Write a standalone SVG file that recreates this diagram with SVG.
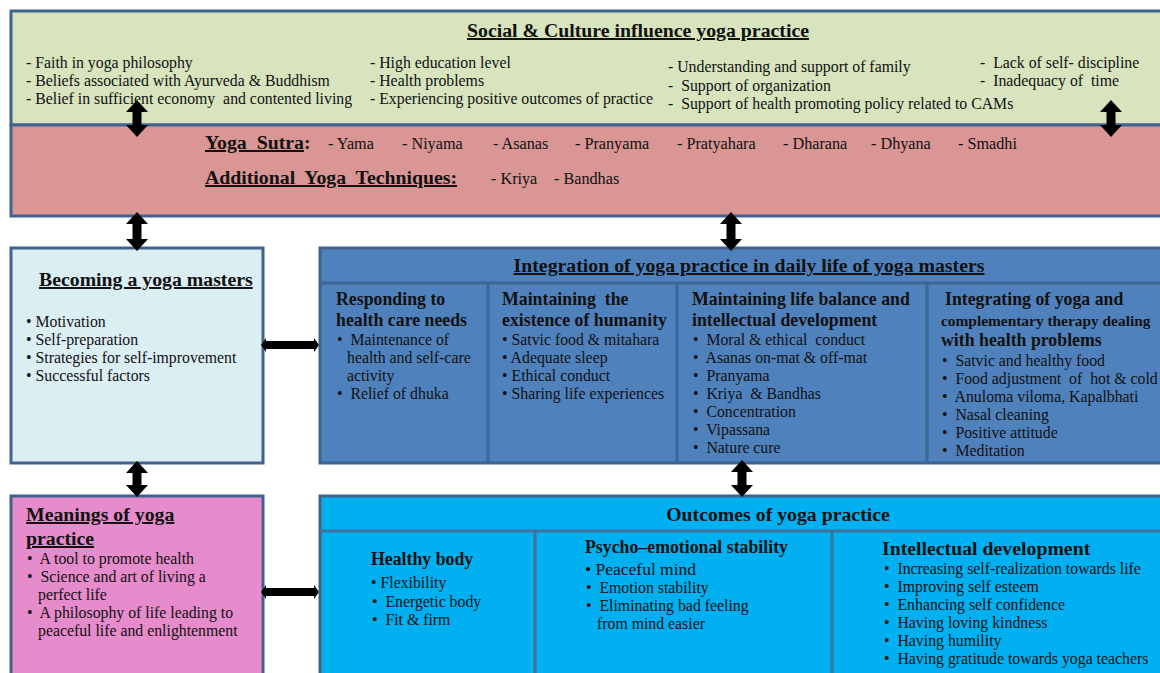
<svg xmlns="http://www.w3.org/2000/svg" width="1160" height="673" viewBox="0 0 1160 673">
<style>
text{font-family:"Liberation Serif","Times New Roman",serif;fill:#111;}
.t{font-size:15.8px;}
.s{font-size:16.2px;}
.h{font-size:19.8px;font-weight:bold;}
.hu{font-size:19.8px;font-weight:bold;text-decoration:underline;}
.b{font-size:17.8px;font-weight:bold;}
.box{stroke:#41628c;stroke-width:3;}
.div{stroke:#3d6595;stroke-width:3;fill:none;}
.arr{fill:#000;}
</style>
<rect width="1160" height="673" fill="#fff"/>

<g id="social">
<rect class="box" x="11" y="11" width="1160" height="114" fill="#d7e4bd"/>
<text class="hu" x="638" y="37" text-anchor="middle">Social &amp; Culture influence yoga practice</text>
<text class="t" x="26" y="68">- Faith in yoga philosophy</text>
<text class="t" x="26" y="86">- Beliefs associated with Ayurveda &amp; Buddhism</text>
<text class="t" x="26" y="104" xml:space="preserve">- Belief in sufficient economy  and contented living</text>
<text class="t" x="370" y="68">- High education level</text>
<text class="t" x="370" y="86">- Health problems</text>
<text class="t" x="370" y="104">- Experiencing positive outcomes of practice</text>
<text class="t" x="668" y="72">- Understanding and support of family</text>
<text class="t" x="668" y="91" xml:space="preserve">-  Support of organization</text>
<text class="t" x="668" y="109" xml:space="preserve">-  Support of health promoting policy related to CAMs</text>
<text class="t" x="980" y="68" xml:space="preserve">-  Lack of self- discipline</text>
<text class="t" x="980" y="86" xml:space="preserve">-  Inadequacy of  time</text>
</g>

<g id="yoga-sutra">
<rect class="box" x="11" y="125" width="1160" height="91" fill="#d99694"/>
<text x="205" y="149"><tspan class="hu" xml:space="preserve">Yoga  Sutra</tspan><tspan class="h">:</tspan></text>
<text class="s" x="328" y="149">- Yama</text>
<text class="s" x="402" y="149">- Niyama</text>
<text class="s" x="493" y="149">- Asanas</text>
<text class="s" x="575" y="149">- Pranyama</text>
<text class="s" x="677" y="149">- Pratyahara</text>
<text class="s" x="783" y="149">- Dharana</text>
<text class="s" x="871" y="149">- Dhyana</text>
<text class="s" x="958" y="149">- Smadhi</text>
<text class="hu" x="205" y="184" xml:space="preserve">Additional  Yoga  Techniques:</text>
<text class="s" x="491" y="184">- Kriya</text>
<text class="s" x="554" y="184">- Bandhas</text>
</g>

<g id="becoming">
<rect class="box" x="11" y="248" width="252" height="215" fill="#dbeef4"/>
<text class="hu" x="39" y="286">Becoming a yoga masters</text>
<text class="t" x="26" y="327">• Motivation</text>
<text class="t" x="26" y="345">• Self-preparation</text>
<text class="t" x="26" y="363">• Strategies for self-improvement</text>
<text class="t" x="26" y="381">• Successful factors</text>
</g>

<g id="integration">
<rect class="box" x="320" y="248" width="850" height="215" fill="#4f81bd"/>
<path class="div" d="M320 283H1170M488 283V463M677 283V463M927 283V463"/>
<text class="hu" x="749" y="272" text-anchor="middle">Integration of yoga practice in daily life of yoga masters</text>
<text class="b" x="336" y="305">Responding to</text>
<text class="b" x="336" y="326">health care needs</text>
<text class="t" x="337" y="345" xml:space="preserve">•  Maintenance of</text>
<text class="t" x="347" y="363">health and self-care</text>
<text class="t" x="347" y="381">activity</text>
<text class="t" x="337" y="399" xml:space="preserve">•  Relief of dhuka</text>

<text class="b" x="502" y="305" xml:space="preserve">Maintaining  the</text>
<text class="b" x="502" y="326">existence of humanity</text>
<text class="t" x="502" y="345">• Satvic food &amp; mitahara</text>
<text class="t" x="502" y="363">• Adequate sleep</text>
<text class="t" x="502" y="381">• Ethical conduct</text>
<text class="t" x="502" y="399">• Sharing life experiences</text>

<text class="b" x="692" y="305">Maintaining life balance and</text>
<text class="b" x="692" y="326">intellectual development</text>
<text class="t" x="693" y="345" xml:space="preserve">•  Moral &amp; ethical  conduct</text>
<text class="t" x="693" y="363" xml:space="preserve">•  Asanas on-mat &amp; off-mat</text>
<text class="t" x="693" y="381" xml:space="preserve">•  Pranyama</text>
<text class="t" x="693" y="399" xml:space="preserve">•  Kriya  &amp; Bandhas</text>
<text class="t" x="693" y="417" xml:space="preserve">•  Concentration</text>
<text class="t" x="693" y="435" xml:space="preserve">•  Vipassana</text>
<text class="t" x="693" y="453" xml:space="preserve">•  Nature cure</text>

<text class="b" x="945" y="305">Integrating of yoga and</text>
<text x="941" y="326" style="font-size:15.4px;font-weight:bold">complementary therapy dealing</text>
<text class="b" x="941" y="346">with health problems</text>
<text class="t" x="942" y="366" xml:space="preserve">•  Satvic and healthy food</text>
<text class="t" x="942" y="384" xml:space="preserve">•  Food adjustment  of  hot &amp; cold</text>
<text class="t" x="942" y="402" xml:space="preserve">•  Anuloma viloma, Kapalbhati</text>
<text class="t" x="942" y="420" xml:space="preserve">•  Nasal cleaning</text>
<text class="t" x="942" y="438" xml:space="preserve">•  Positive attitude</text>
<text class="t" x="942" y="456" xml:space="preserve">•  Meditation</text>
</g>

<g id="meanings">
<rect class="box" x="11" y="496" width="252" height="190" fill="#e68bcb"/>
<text class="hu" x="26" y="521">Meanings of yoga</text>
<text class="hu" x="26" y="545">practice</text>
<text class="t" x="27" y="564" xml:space="preserve">•  A tool to promote health</text>
<text class="t" x="27" y="582" xml:space="preserve">•  Science and art of living a</text>
<text class="t" x="38" y="600">perfect life</text>
<text class="t" x="27" y="618" xml:space="preserve">•  A philosophy of life leading to</text>
<text class="t" x="38" y="636">peaceful life and enlightenment</text>
</g>

<g id="outcomes">
<rect class="box" x="320" y="496" width="850" height="190" fill="#00b0f0"/>
<path class="div" d="M320 531H1170M535 531V686M832 531V686" style="stroke:#41719c"/>
<text class="h" x="778" y="521" text-anchor="middle">Outcomes of yoga practice</text>
<text class="b" x="371" y="565">Healthy body</text>
<text class="t" x="371" y="588">• Flexibility</text>
<text class="t" x="372" y="607" xml:space="preserve">•  Energetic body</text>
<text class="t" x="372" y="625" xml:space="preserve">•  Fit &amp; firm</text>

<text class="b" x="585" y="553">Psycho–emotional stability</text>
<text x="585" y="575" style="font-size:17.5px">• Peaceful mind</text>
<text class="t" x="586" y="593" xml:space="preserve">•  Emotion stability</text>
<text class="t" x="586" y="611" xml:space="preserve">•  Eliminating bad feeling</text>
<text class="t" x="597" y="629">from mind easier</text>

<text x="882" y="555" style="font-size:19.8px;font-weight:bold">Intellectual development</text>
<text class="t" x="884" y="574" xml:space="preserve">•  Increasing self-realization towards life</text>
<text class="t" x="884" y="592" xml:space="preserve">•  Improving self esteem</text>
<text class="t" x="884" y="610" xml:space="preserve">•  Enhancing self confidence</text>
<text class="t" x="884" y="628" xml:space="preserve">•  Having loving kindness</text>
<text class="t" x="884" y="646" xml:space="preserve">•  Having humility</text>
<text class="t" x="884" y="664" xml:space="preserve">•  Having gratitude towards yoga teachers</text>
</g>

<g id="connectors" class="arr">
<path d="M137 100l11 12h-6.5v13h6.5l-11 12l-11-12h6.5v-13h-6.5z"/>
<path d="M1111 100l11 12h-6.5v13h6.5l-11 12l-11-12h6.5v-13h-6.5z"/>
<path d="M137 212l11 12h-6.5v15h6.5l-11 12l-11-12h6.5v-15h-6.5z"/>
<path d="M731 212l11 12h-6.5v15h6.5l-11 12l-11-12h6.5v-15h-6.5z"/>
<path d="M137 461l11 12h-6.5v12h6.5l-11 12l-11-12h6.5v-12h-6.5z"/>
<path d="M742 460l11 12h-6.5v13h6.5l-11 12l-11-12h6.5v-13h-6.5z"/>
<path d="M261 345l5-7v3h48v-3l5 7l-5 7v-3h-48v3z"/>
<path d="M261 592l5-7v3h48v-3l5 7l-5 7v-3h-48v3z"/>
</g>
</svg>
